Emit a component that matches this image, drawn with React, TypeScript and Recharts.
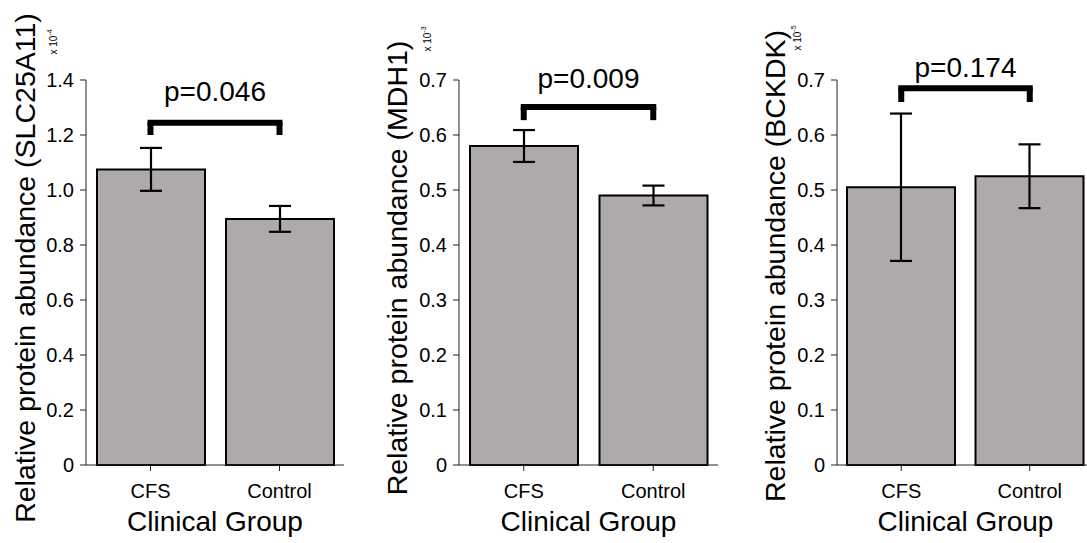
import React from 'react';
import { BarChart, Bar, XAxis, YAxis, ErrorBar, ReferenceLine } from 'recharts';

// categories
const groups = ['CFS', 'Control'];

// SLC25A11 (x10^-4)
const slcMeans = [1.075, 0.895];
const slcErrs = [0.078, 0.047];
const slcTicks = [0, 0.2, 0.4, 0.6, 0.8, 1.0, 1.2, 1.4];

// MDH1 (x10^-3)
const mdhMeans = [0.58, 0.49];
const mdhErrs = [0.029, 0.018];
const mdhTicks = [0, 0.1, 0.2, 0.3, 0.4, 0.5, 0.6, 0.7];

// BCKDK (x10^-5)
const bckMeans = [0.505, 0.525];
const bckErrs = [0.134, 0.058];
const bckTicks = [0, 0.1, 0.2, 0.3, 0.4, 0.5, 0.6, 0.7];

// significance brackets: [bar y, leg bottom y]
const pLabels = ['p=0.046', 'p=0.009', 'p=0.174'];
const bracketY = [1.245, 0.651, 0.685];
const bracketLegY = [1.2, 0.627, 0.66];
const pOffsets = [22, 19, 11];

const proteins = ['SLC25A11', 'MDH1', 'BCKDK'];
const exponents = ['-4', '-3', '-5'];

const FONT = '"Liberation Sans", Arial, sans-serif';
const BAR_FILL = '#aeaaaa';

const makeData = (means: number[], errs: number[]) =>
  groups.map((g, i) => ({ group: g, mean: means[i], err: errs[i] }));

interface PanelProps {
  left: number;
  width: number;
  margin: { top: number; right: number; bottom: number; left: number };
  data: { group: string; mean: number; err: number }[];
  ticks: number[];
  idx: number;
  labelX: number;
  labelY: number;
  expX: number;
  expY: number;
}

function Panel({ left, width, margin, data, ticks, idx, labelX, labelY, expX, expY }: PanelProps) {
  const yMax = ticks[ticks.length - 1];
  const by = bracketY[idx];
  const ly = bracketLegY[idx];
  return (
    <div style={{ position: 'absolute', left, top: 0 }}>
      <BarChart width={width} height={543} data={data} margin={margin}>
        <XAxis
          dataKey="group"
          height={78}
          stroke="#222"
          tickSize={6}
          tickMargin={13}
          tick={{ fill: '#000', fontSize: 20, fontFamily: FONT }}
          label={({ viewBox }: any) => (
            <text
              x={viewBox.x + viewBox.width / 2}
              y={viewBox.y + 66}
              textAnchor="middle"
              fontSize={28}
              fontFamily={FONT}
              fill="#000"
            >
              Clinical Group
            </text>
          )}
        />
        <YAxis
          width={40}
          domain={[0, yMax]}
          ticks={ticks}
          interval={0}
          stroke="#222"
          tickSize={6}
          tickMargin={6}
          tickFormatter={(v: number) => (v === 0 ? '0' : v.toFixed(1))}
          tick={{ fill: '#000', fontSize: 20, fontFamily: FONT }}
          label={() => (
            <g>
              <text
                transform={`translate(${labelX},${labelY}) rotate(-90)`}
                textAnchor="middle"
                dominantBaseline="central"
                fontSize={28.5}
                fontFamily={FONT}
                fill="#000"
              >
                {`Relative protein abundance (${proteins[idx]})`}
              </text>
              <text
                transform={`translate(${expX},${expY}) rotate(-90)`}
                textAnchor="middle"
                dominantBaseline="central"
                fontSize={10}
                fontFamily={FONT}
                fill="#000"
              >
                x 10
                <tspan fontSize={7} dy={-4}>
                  {exponents[idx]}
                </tspan>
              </text>
            </g>
          )}
        />
        <Bar
          dataKey="mean"
          fill={BAR_FILL}
          stroke="#000"
          strokeWidth={2}
          barSize={108}
          isAnimationActive={false}
        >
          <ErrorBar dataKey="err" width={11} stroke="#000" strokeWidth={2.2} />
        </Bar>
        <ReferenceLine
          segment={[
            { x: groups[0], y: by },
            { x: groups[1], y: by },
          ]}
          stroke="#000"
          strokeWidth={6}
          strokeLinecap="square"
          label={{
            value: pLabels[idx],
            position: 'top',
            offset: pOffsets[idx],
            fontSize: 28,
            fontFamily: FONT,
            fill: '#000',
          }}
        />
        <ReferenceLine
          segment={[
            { x: groups[0], y: ly },
            { x: groups[0], y: by },
          ]}
          stroke="#000"
          strokeWidth={6}
        />
        <ReferenceLine
          segment={[
            { x: groups[1], y: ly },
            { x: groups[1], y: by },
          ]}
          stroke="#000"
          strokeWidth={6}
        />
      </BarChart>
    </div>
  );
}

export default function App() {
  return (
    <div
      style={{
        position: 'relative',
        width: 1087,
        height: 543,
        overflow: 'hidden',
        background: '#fff',
        fontFamily: FONT,
      }}
    >
      <style>{'body{margin:0}'}</style>
      <Panel
        left={0}
        width={360}
        margin={{ top: 80, right: 16, bottom: 0, left: 46 }}
        data={makeData(slcMeans, slcErrs)}
        ticks={slcTicks}
        idx={0}
        labelX={25}
        labelY={268}
        expX={53}
        expY={42}
      />
      <Panel
        left={360}
        width={360}
        margin={{ top: 80, right: 2, bottom: 0, left: 59 }}
        data={makeData(mdhMeans, mdhErrs)}
        ticks={mdhTicks}
        idx={1}
        labelX={37}
        labelY={268}
        expX={67}
        expY={39}
      />
      <Panel
        left={720}
        width={380}
        margin={{ top: 80, right: 6, bottom: 0, left: 77 }}
        data={makeData(bckMeans, bckErrs)}
        ticks={bckTicks}
        idx={2}
        labelX={55}
        labelY={266}
        expX={77}
        expY={38}
      />
    </div>
  );
}
